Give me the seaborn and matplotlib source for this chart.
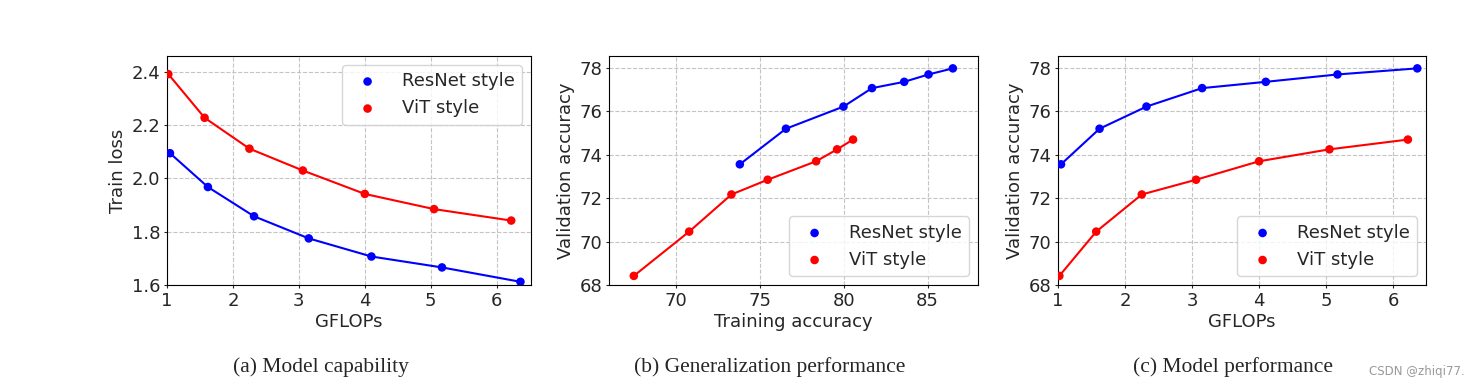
import matplotlib
matplotlib.use("Agg")
import matplotlib.pyplot as plt
import seaborn as sns

# ── data ────────────────────────────────────────────────────────────────────
resnet_gflops = [1.045, 1.62, 2.32, 3.15, 4.10, 5.17, 6.36]
vit_gflops = [1.02, 1.57, 2.25, 3.06, 4.00, 5.05, 6.22]

resnet_train_loss = [2.095, 1.968, 1.858, 1.775, 1.707, 1.666, 1.612]
vit_train_loss = [2.392, 2.228, 2.112, 2.030, 1.942, 1.885, 1.842]

resnet_train_acc = [73.8, 76.55, 79.98, 81.68, 83.6, 85.05, 86.5]
vit_train_acc = [67.48, 70.78, 73.3, 75.46, 78.35, 79.6, 80.55]

resnet_val_acc = [73.56, 75.2, 76.22, 77.07, 77.36, 77.7, 77.98]
vit_val_acc = [68.42, 70.46, 72.17, 72.85, 73.7, 74.25, 74.7]

captions = ["(a) Model capability", "(b) Generalization performance", "(c) Model performance"]

sns.set_style("ticks", {"axes.grid": True, "grid.linestyle": "--", "grid.color": "#c4c4c4",
                        "axes.edgecolor": "black"})
plt.rcParams["font.family"] = ["DejaVu Sans"]

fig = plt.figure(figsize=(14.84, 3.9), dpi=100)
W, H = 1484, 390
boxes = [(167, 531), (609, 978), (1058, 1426)]
axes = [fig.add_axes([l / W, 1 - 285 / H, (r - l) / W, (285 - 56) / H]) for l, r in boxes]


def draw(ax, xr, yr, xv, yv, loc):
    sns.lineplot(x=xr, y=yr, color="blue", sort=False, ax=ax, linewidth=1.5, zorder=2)
    sns.lineplot(x=xv, y=yv, color="red", sort=False, ax=ax, linewidth=1.5, zorder=2)
    sns.scatterplot(x=xr, y=yr, color="blue", s=38, edgecolor="none", label="ResNet style", ax=ax, zorder=3)
    sns.scatterplot(x=xv, y=yv, color="red", s=38, edgecolor="none", label="ViT style", ax=ax, zorder=3)
    ax.legend(loc=loc, fontsize=13, scatterpoints=1, handletextpad=0.9)
    ax.tick_params(labelsize=13, length=2.5, width=0.8, pad=2.5)
    ax.grid(True, linestyle="--", color="#c4c4c4", linewidth=0.8)
    for s in ax.spines.values():
        s.set_color("black")
        s.set_linewidth(0.8)


draw(axes[0], resnet_gflops, resnet_train_loss, vit_gflops, vit_train_loss, "upper right")
axes[0].set_xlim(1, 6.52)
axes[0].set_ylim(1.6, 2.46)
axes[0].set_yticks([1.6, 1.8, 2.0, 2.2, 2.4])
axes[0].set_xlabel("GFLOPs", fontsize=13, labelpad=2)
axes[0].set_ylabel("Train loss", fontsize=13, labelpad=3)

draw(axes[1], resnet_train_acc, resnet_val_acc, vit_train_acc, vit_val_acc, "lower right")
axes[1].set_xlim(66, 88)
axes[1].set_ylim(68, 78.55)
axes[1].set_xticks([70, 75, 80, 85])
axes[1].set_yticks([68, 70, 72, 74, 76, 78])
axes[1].set_xlabel("Training accuracy", fontsize=13, labelpad=2)
axes[1].set_ylabel("Validation accuracy", fontsize=13, labelpad=3)

draw(axes[2], resnet_gflops, resnet_val_acc, vit_gflops, vit_val_acc, "lower right")
axes[2].set_xlim(1, 6.49)
axes[2].set_ylim(68, 78.55)
axes[2].set_yticks([68, 70, 72, 74, 76, 78])
axes[2].set_xlabel("GFLOPs", fontsize=13, labelpad=2)
axes[2].set_ylabel("Validation accuracy", fontsize=13, labelpad=3)

for cx, cap in zip([321, 770, 1233], captions):
    fig.text(cx / W, 1 - 367 / H, cap, ha="center", va="center", fontsize=15.5,
             family=["Liberation Serif"])
fig.text(1417 / W, 1 - 372 / H, "CSDN @zhiqi77.", ha="center", va="center", fontsize=8.5,
         color="#999999")

fig.savefig("out.png", dpi=100, facecolor="white")
